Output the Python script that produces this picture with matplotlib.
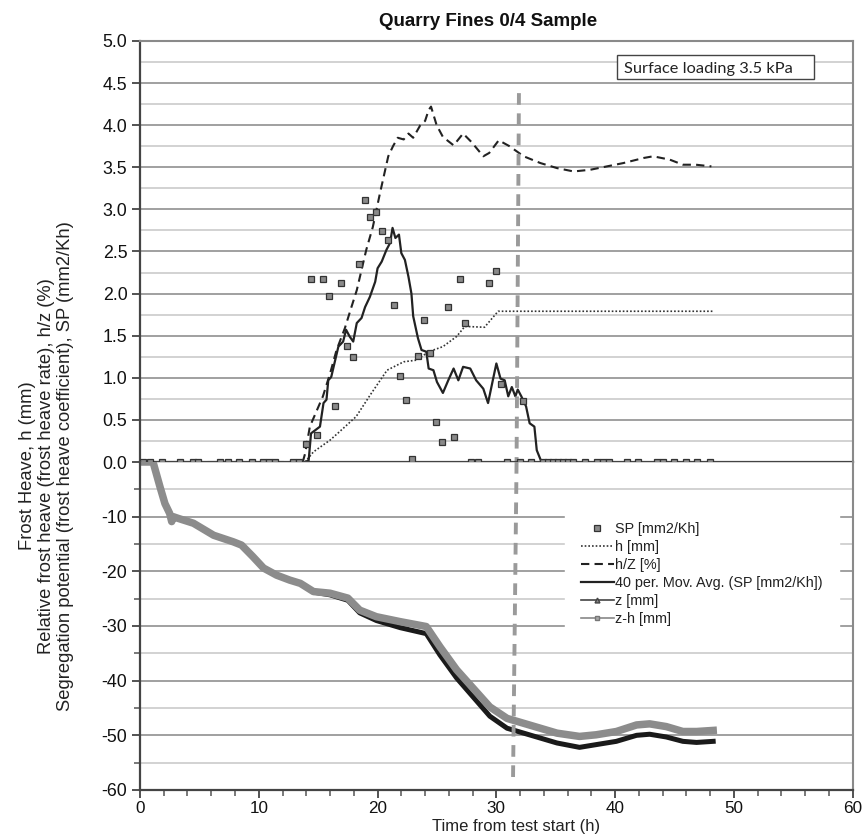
import numpy as np
import matplotlib
matplotlib.use('Agg')
import matplotlib.pyplot as plt
from matplotlib.lines import Line2D
from matplotlib.patches import Rectangle
from matplotlib.ticker import MultipleLocator

plt.rcParams['font.family'] = ['Liberation Sans', 'DejaVu Sans']
plt.rcParams['axes.unicode_minus'] = False

# SP points (mm2/Kh)
sp_t = [0.28, 0.84, 1.88, 3.4, 4.43, 4.91, 6.73, 7.43, 8.36, 9.4, 10.38, 10.88, 11.36, 12.85, 13.4,
        13.95, 14.4, 14.9, 15.4, 15.9, 16.4, 16.9, 17.45, 17.9, 18.4, 18.9, 19.4, 19.9, 20.4, 20.9,
        21.4, 21.9, 22.4, 22.9, 23.4, 23.9, 24.4, 24.9, 25.45, 25.95, 26.4, 26.9, 27.4, 27.83, 28.47,
        29.4, 30.0, 30.35, 30.91, 31.95, 32.26, 32.9, 33.94, 34.36, 34.78, 35.2, 35.62, 36.05, 36.47,
        37.45, 38.43, 38.94, 39.5, 41.0, 41.93, 43.48, 44.04, 44.97, 45.95, 46.93, 47.97]
sp_v = [0, 0, 0, 0, 0, 0, 0, 0, 0, 0, 0, 0, 0, 0, 0,
        0.21, 2.17, 0.32, 2.17, 1.97, 0.66, 2.12, 1.38, 1.25, 2.35, 3.11, 2.91, 2.97, 2.74, 2.64,
        1.86, 1.02, 0.74, 0.03, 1.26, 1.69, 1.30, 0.48, 0.24, 1.84, 0.30, 2.17, 1.65, 0, 0,
        2.13, 2.27, 0.93, 0, 0, 0.72, 0, 0, 0, 0, 0, 0, 0, 0,
        0, 0, 0, 0, 0, 0, 0, 0, 0, 0, 0, 0]

# h [mm]
h_t = [0, 13.9, 14.6, 16.0, 16.8, 18.2, 19.4, 20.8, 22.2, 23.3, 24.3, 25.5, 26.65, 27.35, 29.0, 30.15, 31.7, 48.25]
h_v = [0, 0, 0.12, 0.26, 0.36, 0.54, 0.80, 1.09, 1.19, 1.21, 1.31, 1.37, 1.49, 1.61, 1.60, 1.79, 1.79, 1.79]

# h/Z [%]
hz_t = [0, 13.7, 13.9, 14.3, 15.4, 16.0, 16.55, 17.25, 17.8, 18.25, 18.65, 19.05, 19.6, 20.2, 20.9,
        21.3, 21.7, 22.2, 22.6, 23.0, 23.6, 24.0, 24.3, 24.5, 24.97, 25.5, 26.4, 27.2, 27.9, 28.9,
        29.4, 30.2, 31.1, 32.3, 33.7, 35.1, 36.5, 37.9, 39.3, 40.7, 42.4, 43.2, 44.6, 45.7, 46.8, 48.1]
hz_v = [0, 0, 0.10, 0.42, 0.78, 1.05, 1.33, 1.59, 1.84, 2.04, 2.28, 2.52, 2.79, 3.19, 3.63,
        3.75, 3.85, 3.83, 3.90, 3.85, 4.00, 4.05, 4.18, 4.22, 4.00, 3.86, 3.76, 3.90, 3.80, 3.63,
        3.67, 3.82, 3.75, 3.63, 3.55, 3.49, 3.45, 3.47, 3.51, 3.55, 3.61, 3.63, 3.59, 3.53, 3.53, 3.51]

# 40 per. moving average of SP
ma_t = [13.9, 14.2, 14.4, 15.15, 15.45, 15.7, 15.85, 16.1, 16.3, 16.7, 17.1, 17.35, 17.65, 17.95,
        18.25, 18.65, 18.95, 19.35, 19.8, 20.0, 20.35, 20.75, 21.05, 21.26, 21.5, 21.8, 22.0, 22.3,
        22.6, 22.85, 23.0, 23.4, 23.7, 24.1, 24.3, 24.7, 25.0, 25.5, 25.95, 26.4, 26.8, 27.2, 27.8,
        28.3, 28.9, 29.3, 29.7, 30.0, 30.35, 30.7, 31.0, 31.3, 31.6, 31.8, 32.1, 32.5, 32.8, 33.2,
        33.4, 33.8]
ma_v = [0, 0.02, 0.34, 0.42, 0.70, 0.74, 0.97, 1.01, 1.13, 1.37, 1.43, 1.57, 1.49, 1.43,
        1.65, 1.71, 1.84, 1.96, 2.14, 2.30, 2.38, 2.52, 2.60, 2.78, 2.66, 2.70, 2.48, 2.40,
        2.20, 2.00, 1.73, 1.47, 1.33, 1.31, 1.11, 1.09, 0.95, 0.82, 0.97, 1.11, 0.97, 1.13, 1.11,
        0.97, 0.87, 0.70, 0.97, 1.17, 0.99, 0.97, 0.78, 0.89, 0.78, 0.86, 0.78, 0.66, 0.46, 0.42,
        0.14, 0.0]

# z and z-h [mm]
zz_t = [0, 1.1, 1.68, 2.1, 2.5, 2.67, 2.8, 3.2, 4.5, 6.2, 7.85, 8.55, 9.5, 10.4, 11.5, 12.6, 13.5,
        14.6, 16.0, 17.5, 18.5, 19.9, 21.9, 24.1, 25.25, 26.65, 28.05, 29.45, 30.9, 32.3, 33.7,
        35.1, 37.0, 38.4, 40.1, 41.8, 42.9, 44.3, 45.7, 46.85, 48.25]
zh_v = [0, 0, -4.5, -7.6, -9.4, -10.9, -10.0, -10.3, -11.2, -13.4, -14.6, -15.2, -17.3, -19.4,
        -20.7, -21.6, -22.2, -23.7, -24.0, -24.9, -27.1, -28.3, -29.2, -30.1, -33.8, -38.0, -41.4,
        -44.8, -46.9, -47.8, -48.7, -49.6, -50.2, -49.9, -49.3, -48.1, -47.9, -48.4, -49.3, -49.3,
        -49.1]
z_v = [0, 0, -4.5, -7.6, -9.4, -10.9, -10.0, -10.3, -11.2, -13.4, -14.6, -15.2, -17.3, -19.4,
       -20.7, -21.6, -22.2, -23.8, -24.3, -25.3, -27.6, -29.0, -30.3, -31.4, -35.3, -39.5, -43.0,
       -46.5, -48.7, -49.6, -50.5, -51.4, -52.2, -51.7, -51.1, -50.0, -49.8, -50.3, -51.1, -51.3,
       -51.1]

end_freeze = 31.7

fig = plt.figure(figsize=(8.64, 8.35), dpi=100)
ax1 = fig.add_axes([0.162, 0.4467, 0.825, 0.5043])
ax2 = fig.add_axes([0.162, 0.0539, 0.825, 0.3928])

grid_major = dict(color='#a0a0a0', lw=1.4)
grid_minor = dict(color='#cbcbcb', lw=1.2)

# upper part
ax1.set_xlim(0, 60)
ax1.set_ylim(0, 5)
ax1.yaxis.set_major_locator(MultipleLocator(0.5))
ax1.yaxis.set_minor_locator(MultipleLocator(0.25))
ax1.yaxis.set_major_formatter(matplotlib.ticker.FormatStrFormatter('%.1f'))
ax1.grid(True, which='major', axis='y', **grid_major)
ax1.grid(True, which='minor', axis='y', **grid_minor)
ax1.set_xticks([])
ax1.plot(h_t, h_v, color='#333333', ls=(0, (1, 1.2)), lw=1.2)
ax1.plot(hz_t, hz_v, color='#222222', ls=(0, (4, 2.5)), lw=1.5)
ax1.plot(ma_t, ma_v, color='#222222', lw=1.6)
ax1.plot(sp_t, sp_v, ls='none', marker='s', ms=4, mfc='#8a8a8a', mec='#333333', mew=0.9, zorder=4)
ax1.plot([end_freeze + 0.2, end_freeze], [4.38, 0], color='#9a9a9a', lw=2.8, ls=(0, (3, 2.2)))

ax1.add_patch(Rectangle((0.669, 0.910), 0.276, 0.057, transform=ax1.transAxes,
                        fc='white', ec='#444444', lw=1.0, zorder=5))
ax1.text(0.679, 0.916, 'Surface loading 3.5 kPa', transform=ax1.transAxes,
         family=['Lato', 'DejaVu Sans'], fontsize=11.8, color='#222222', zorder=6,
         ha='left', va='bottom')

# lower part
ax2.set_xlim(0, 60)
ax2.set_ylim(-60, 0)
ax2.set_yticks([-60, -50, -40, -30, -20, -10])
ax2.yaxis.set_minor_locator(MultipleLocator(5))
ax2.grid(True, which='major', axis='y', **grid_major)
ax2.grid(True, which='minor', axis='y', **grid_minor)
ax2.xaxis.set_major_locator(MultipleLocator(10))
ax2.xaxis.set_minor_locator(MultipleLocator(2))
ax2.plot(zz_t, z_v, color='#1a1a1a', lw=3.6, solid_joinstyle='round')
ax2.plot(zz_t, zh_v, color='#8c8c8c', lw=5.4, solid_joinstyle='round')
ax2.plot([end_freeze, end_freeze - 0.3], [0, -58.5], color='#9a9a9a', lw=2.8, ls=(0, (3, 2.2)))

for ax in (ax1, ax2):
    for s in ('left', 'bottom'):
        ax.spines[s].set_color('#444444')
        ax.spines[s].set_linewidth(1.6)
    ax.spines['right'].set_color('#8a8a8a')
    ax.spines['right'].set_linewidth(1.5)
    ax.spines['top'].set_color('#8a8a8a')
    ax.spines['top'].set_linewidth(1.5)
    ax.tick_params(axis='both', which='major', direction='out', length=6, width=1.3,
                   color='#444444', labelsize=12.8, labelcolor='#111111', pad=3)
    ax.tick_params(axis='both', which='minor', direction='out', length=4, width=1.1,
                   color='#555555')
ax1.tick_params(axis='y', which='minor', length=0)
ax2.tick_params(axis='x', which='major', labelsize=12.3, pad=2)
ax2.spines['top'].set_visible(False)

handles = [
    Line2D([], [], ls='none', marker='s', ms=4, mfc='#8a8a8a', mec='#333333', mew=0.9),
    Line2D([], [], color='#333333', ls=(0, (1, 1.2)), lw=1.2),
    Line2D([], [], color='#222222', ls=(0, (4, 2.5)), lw=1.5),
    Line2D([], [], color='#222222', lw=1.6),
    Line2D([], [], color='#444444', lw=1.2, marker='^', ms=3.5, mfc='#888888', mec='#444444'),
    Line2D([], [], color='#888888', lw=1.2, marker='s', ms=3.5, mfc='#aaaaaa', mec='#777777'),
]
labels = ['SP [mm2/Kh]', 'h [mm]', 'h/Z [%]', '40 per. Mov. Avg. (SP [mm2/Kh])', 'z [mm]', 'z-h [mm]']
leg = ax2.legend(handles, labels, loc='upper left', bbox_to_anchor=(0.596, 0.865),
                 fontsize=10.4, frameon=True, fancybox=False, edgecolor='white',
                 facecolor='white', framealpha=1, handlelength=2.3, handletextpad=0.1,
                 labelspacing=0.28, borderpad=1.1, borderaxespad=0)
for t in leg.get_texts():
    t.set_color('#222222')

fig.text(0.565, 1 - 22 / 835, 'Quarry Fines 0/4 Sample', ha='center', va='center',
         fontsize=13.5, fontweight='bold', color='#111111')
fig.text(0.054, 1 - 466 / 835,
         'Frost Heave, h (mm)\nRelative frost heave (frost heave rate), h/z (%)\n'
         'Segregation potential (frost heave coefficient), SP (mm2/Kh)',
         rotation=90, ha='center', va='center', multialignment='center',
         fontsize=13.2, linespacing=1.15, color='#222222')
fig.text(0.597, 1 - 827 / 835, 'Time from test start (h)', ha='center', va='center',
         fontsize=12, color='#222222')

fig.savefig('out.png', dpi=100)
